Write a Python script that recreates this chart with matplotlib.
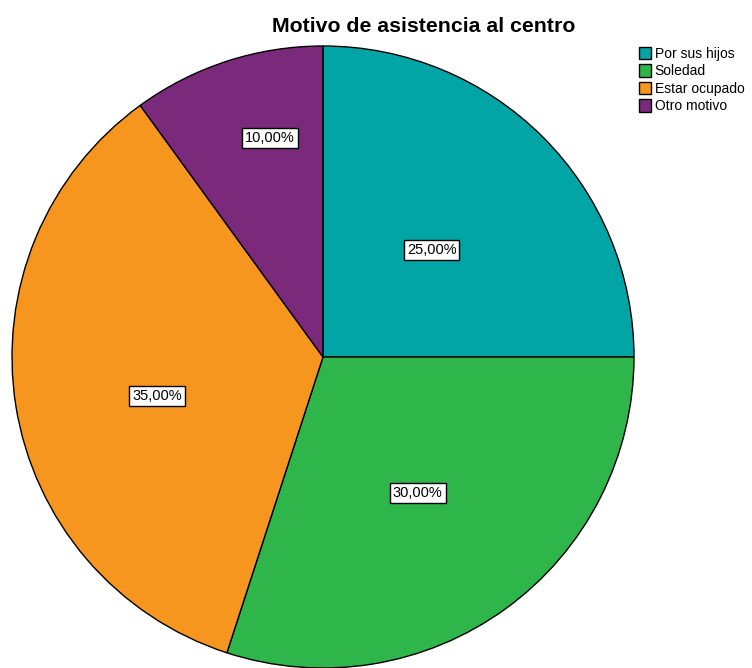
import matplotlib
matplotlib.use("Agg")
import matplotlib.pyplot as plt
import numpy as np
from matplotlib.patches import Patch

plt.rcParams['font.family'] = ['Liberation Sans', 'DejaVu Sans']

categories = ["Por sus hijos", "Soledad", "Estar ocupado", "Otro motivo"]
values = [25.0, 30.0, 35.0, 10.0]
colors = ["#01A5A5", "#2EB64A", "#F7961F", "#7B2A7B"]
# label placement: distance from centre and angular nudge (degrees)
label_radius = [0.49, 0.533, 0.548, 0.724]
label_nudge = [-0.5, -1.1, 4.2, -4.4]

fig = plt.figure(figsize=(7.52, 6.68), dpi=100)
ax = fig.add_axes([12 / 752, 0, 622 / 752, 622 / 668])

wedges, _ = ax.pie(values, colors=colors, startangle=90, counterclock=False,
                   radius=1.0,
                   wedgeprops=dict(edgecolor="black", linewidth=1.0))
ax.set_xlim(-1, 1)
ax.set_ylim(-1, 1)
ax.set_aspect("equal")

for w, v, r, d in zip(wedges, values, label_radius, label_nudge):
    ang = np.deg2rad((w.theta1 + w.theta2) / 2 + d)
    ax.text(r * np.cos(ang), r * np.sin(ang), f"{v:.2f}%".replace(".", ","),
            ha="center", va="center", fontsize=10.5,
            bbox=dict(boxstyle="square,pad=0.2", facecolor="white",
                      edgecolor="black", linewidth=1.0))

fig.text(424 / 752, 1 - 26 / 668, "Motivo de asistencia al centro",
         ha="center", va="center", fontsize=15.3, fontweight="bold")

handles = [Patch(facecolor=c, edgecolor="black", linewidth=1.0) for c in colors]
fig.legend(handles, categories, loc="upper left",
           bbox_to_anchor=(629 / 752, 1 - 37 / 668), frameon=False,
           fontsize=10, handlelength=0.9, handleheight=1.0,
           handletextpad=0.25, labelspacing=0.25, borderpad=0.2)

fig.savefig("out.png", dpi=100)
